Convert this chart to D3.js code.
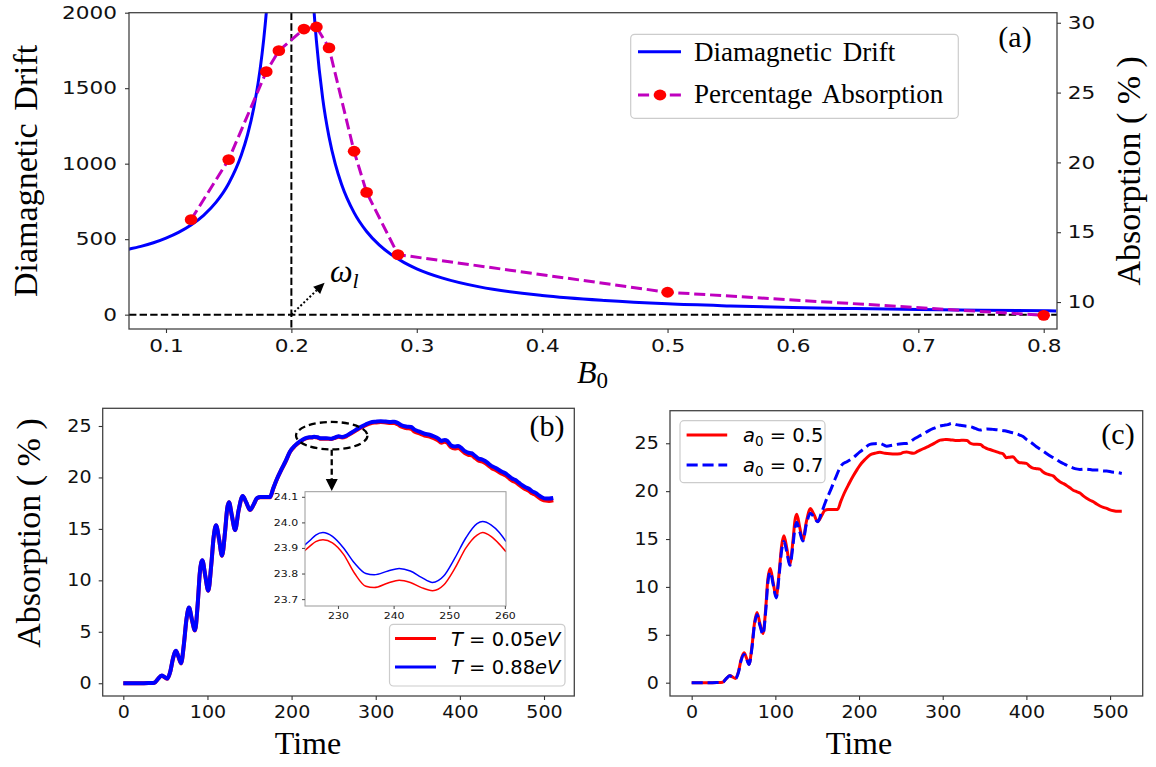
<!DOCTYPE html>
<html><head><meta charset="utf-8">
<script src="https://cdn.jsdelivr.net/npm/d3@7"></script>
<style>body{margin:0;background:#fff} svg{display:block;background:#fff}</style>
</head><body>
<svg id="fig" width="1156" height="767"></svg>
<script>
// ---------------- DATA ----------------
// Panel (a): diamagnetic drift vs B0 (null = break at resonance)
const driftB0 = [0.07,0.08,0.09,0.10,0.11,0.12,0.13,0.14,0.15,0.16,0.165,0.17,0.175,0.178,0.18,0.182,0.186,0.20,0.214,0.2175,0.22,0.225,0.23,0.235,0.24,0.25,0.26,0.27,0.28,0.29,0.30,0.32,0.35,0.40,0.45,0.50,0.55,0.60,0.65,0.70,0.75,0.81];
const driftVal = [433,452,476,507,545,594,658,745,869,1056,1190,1369,1621,1828,2000,2211,2700,null,2700,2080,1810,1431,1178,998,864,676,551,462,396,345,304,244,184,127,94,72,58,47,40,34,29,25];
// Panel (a): percentage absorption points
const absB0  = [0.12,0.15,0.18,0.19,0.21,0.22,0.23,0.25,0.26,0.285,0.50,0.80];
const absPct = [15.9,20.2,26.5,28.0,29.55,29.7,28.2,20.8,17.85,13.4,10.7,9.05];
const ticksA_x = [0.1,0.2,0.3,0.4,0.5,0.6,0.7,0.8];
const ticksA_yL = [0,500,1000,1500,2000];
const ticksA_yR = [10,15,20,25,30];

// Panel (b): absorption vs time
const timeB = [0,10,20,30,37,41,45.6,49,52.3,56,59,62.6,65.5,68.6,72,75,78.1,81.5,85.2,88.5,91,93.9,97.5,101,104.5,107.5,110.2,113.8,117.3,121,123.5,125.6,129,132.9,137,141.9,146,150.6,155,159,163,170,174.4,178,182.3,188,193,198,204,210,216,221,224,227,231,235,241,247,252,256,260,265,270,276,282,288,294,300,306,312,318,322,326,330,336,342,346,352,358,364,369,374,378,382,385,389,394,398,402,406,410,414,418,422,426,430,434,438,442,446,450,454,458,462,466,470,474,478,482,486,490,494,498,502,506,511];
const absB_T088 = [0,0,0,0.02,0.05,0.4,0.75,0.6,0.45,1.2,2.4,3.15,2.6,1.95,3.8,6.2,7.35,6.2,5.15,7.8,10.8,11.95,10.4,9.0,11.5,14.3,15.35,14.0,12.4,14.8,17.0,17.6,16.3,14.9,16.8,18.2,17.6,16.85,17.4,18.0,18.1,18.1,18.1,18.9,19.8,20.8,21.6,22.5,23.1,23.5,23.8,23.9,23.91,23.96,23.9,23.8,23.82,23.77,23.9,24.0,23.93,24.05,24.3,24.6,24.9,25.15,25.35,25.42,25.47,25.43,25.4,25.42,25.3,25.1,24.95,24.9,24.65,24.45,24.25,24.15,24.0,23.8,23.55,23.65,23.55,23.15,23.0,23.05,22.85,22.55,22.4,22.35,22.1,21.85,21.75,21.6,21.35,21.1,20.95,20.75,20.55,20.4,20.15,19.9,19.75,19.5,19.25,19.05,18.9,18.65,18.5,18.25,18.05,17.95,17.95,18.0];
const absB_T005 = [0,0,0,0.02,0.05,0.4,0.74,0.59,0.44,1.19,2.38,3.13,2.58,1.93,3.78,6.18,7.33,6.18,5.13,7.78,10.78,11.93,10.38,8.98,11.48,14.28,15.33,13.98,12.38,14.78,16.98,17.58,16.28,14.88,16.78,18.18,17.58,16.83,17.38,17.98,18.08,18.08,18.08,18.88,19.78,20.77,21.57,22.47,23.06,23.46,23.76,23.87,23.89,23.93,23.87,23.75,23.77,23.73,23.86,23.96,23.89,24.0,24.24,24.53,24.82,25.07,25.27,25.34,25.38,25.34,25.3,25.3,25.16,24.95,24.8,24.73,24.47,24.27,24.07,23.97,23.82,23.62,23.37,23.47,23.37,22.97,22.82,22.86,22.66,22.36,22.2,22.15,21.9,21.65,21.55,21.4,21.15,20.9,20.75,20.55,20.35,20.2,19.95,19.7,19.55,19.3,19.05,18.85,18.7,18.45,18.3,18.05,17.85,17.75,17.72,17.78];
const ticksB_x = [0,100,200,300,400,500];
const ticksB_y = [0,5,10,15,20,25];

// Inset of (b): zoom on 224-260
const timeInset = [224,225,226,227.3,229,231,233,235,236.5,239,241,243,245,247,249,251,253,255,256,257.5,259,260.2];
const insetT088 = [23.911,23.93,23.95,23.96,23.945,23.90,23.84,23.80,23.795,23.81,23.82,23.81,23.785,23.765,23.79,23.86,23.94,23.995,24.003,23.99,23.96,23.925];
const insetT005 = [23.889,23.908,23.925,23.932,23.92,23.875,23.80,23.75,23.745,23.763,23.774,23.765,23.745,23.733,23.755,23.82,23.90,23.95,23.96,23.945,23.915,23.885];
const ticksI_x = [230,240,250,260];
const ticksI_y = [23.7,23.8,23.9,24.0,24.1];

// Panel (c)
const timeC_a05 = [0,10,20,30,37,41,45.6,49,52.3,56,59,62.6,65.5,68.6,72,75,78.1,81.5,85.2,88.5,91,93.9,97.5,101,104.5,107.5,110.2,113.8,117.3,121,123.5,125.6,129,132.9,137,141.9,146,150.6,155,159,163,170,174.4,178,182.3,188,193,198,201,207,213,219,225,231,237,243,249,253,257,261,265,270,276,281,287,292,297,302,305,310,315,320,325,329,333,337,341,345,349,353,358,363,368,372,376,380,384,388,392,396,400,404,408,412,416,420,424,428,432,436,440,444,448,452,456,460,464,468,472,476,480,484,488,492,496,500,504,509,514];
const absC_a05 = [0,0,0,0.02,0.05,0.4,0.74,0.59,0.44,1.19,2.38,3.13,2.58,1.93,3.78,6.18,7.33,6.18,5.13,7.78,10.78,11.93,10.38,8.98,11.48,14.28,15.33,13.98,12.38,14.78,16.98,17.58,16.28,14.88,16.78,18.18,17.58,16.83,17.38,17.98,18.08,18.08,18.08,18.88,19.78,20.77,21.57,22.3,22.7,23.3,23.77,23.95,24.05,23.95,23.9,23.88,23.9,24.05,24.1,24.0,23.95,24.15,24.4,24.6,24.85,25.1,25.33,25.38,25.4,25.35,25.3,25.3,25.32,25.3,25.0,24.9,24.9,24.88,24.6,24.45,24.3,24.15,24.0,23.9,23.5,23.55,23.6,23.2,22.97,22.95,22.9,22.6,22.4,22.35,22.3,22.0,21.8,21.7,21.6,21.25,20.98,20.8,20.6,20.35,20.1,19.95,19.8,19.5,19.25,19.05,18.9,18.65,18.45,18.3,18.2,18.05,17.96,17.9,17.9];
const timeC_a07 = [0,10,20,30,37,41,45.6,49,52.3,56,59,62.6,65.5,68.6,72,75,78.1,81.5,85.2,88.5,91,93.9,97.5,101,104.5,107.5,110.2,113.8,117.3,121,123.5,125.6,129,132.9,137,141.9,146,150.6,155,160,166,172,179,186,192.5,201,207,213,219,225,233,240,245,251,257,265,271,277,283,289,295,301,306,311,316,321,327,333,339,345,349,353,360,368,374,380,386,392,396,400,406,412,418,424,430,436,440,446,452,458,464,470,476,480,486,492,496,502,508,514];
const absC_a07 = [0,0,0,0.02,0.05,0.4,0.72,0.55,0.42,1.1,2.3,2.95,2.5,1.9,3.6,6.0,7.1,6.0,5.05,7.5,10.4,11.55,10.2,8.85,11.2,13.8,14.75,13.6,12.25,14.3,16.2,16.75,15.8,14.8,16.5,17.7,17.3,16.8,17.7,18.9,20.1,21.4,22.7,23.1,23.45,24.1,24.5,24.88,24.95,24.98,24.7,24.8,24.88,24.95,24.98,25.4,25.7,26.0,26.3,26.55,26.75,26.87,26.95,27.08,26.95,26.87,26.8,26.73,26.55,26.38,26.45,26.5,26.45,26.38,26.3,26.17,26.05,25.86,25.7,25.4,25.05,24.64,24.3,23.94,23.6,23.3,23.07,22.8,22.55,22.35,22.27,22.3,22.25,22.2,22.2,22.1,22.1,22.0,21.95,21.85];
const ticksC_x = [0,100,200,300,400,500];
const ticksC_y = [0,5,10,15,20,25];

// ---------------- DRAWING ----------------
const svg = d3.select("#fig");
const SERIF = "Liberation Serif, Times New Roman, serif";
const SANS = "DejaVu Sans, sans-serif";
const defs = svg.append("defs");

function clip(id, x0, x1, y0, y1) {
  defs.append("clipPath").attr("id", id).append("rect")
    .attr("x", x0).attr("y", y0).attr("width", x1 - x0).attr("height", y1 - y0);
  return `url(#${id})`;
}
function styleAxis(g, fs, sx, color) {
  g.select(".domain").remove();
  g.selectAll(".tick line").attr("stroke", color || "#333").attr("stroke-width", 1.1);
  g.selectAll(".tick text").attr("fill", "#111")
    .style("font-family", SANS).style("font-size", fs + "px")
    .attr("transform", `scale(${sx},1)`);
}
function frame(x0, x1, y0, y1, color, w) {
  svg.append("rect").attr("x", x0).attr("y", y0).attr("width", x1 - x0).attr("height", y1 - y0)
    .attr("fill", "none").attr("stroke", color || "#444").attr("stroke-width", w || 1.3);
}
function zip(a, b) { return a.map((d, i) => [d, b[i]]); }

// ===== Panel (a) =====
const A = {l: 129, r: 1057, t: 12.7, b: 329};
const xA = d3.scaleLinear().domain([0.0705, 0.8106]).range([A.l, A.r]);
const yA = d3.scaleLinear().domain([-95, 2000]).range([A.b, A.t]);
const yA2 = d3.scaleLinear().domain([8.07, 30.72]).range([A.b, A.t]);
const clipA = clip("cA", A.l, A.r, A.t, A.b);
const gA = svg.append("g").attr("clip-path", clipA);

// reference dashed lines
gA.append("line").attr("x1", A.l).attr("x2", A.r).attr("y1", yA(0)).attr("y2", yA(0))
  .attr("stroke", "#000").attr("stroke-width", 2).attr("stroke-dasharray", "7.4,3.2");
gA.append("line").attr("x1", xA(0.2)).attr("x2", xA(0.2)).attr("y1", A.t).attr("y2", A.b)
  .attr("stroke", "#000").attr("stroke-width", 2).attr("stroke-dasharray", "7.4,3.2");

const lineDrift = d3.line().defined(d => d[1] != null)
  .x(d => xA(d[0])).y(d => yA(d[1])).curve(d3.curveMonotoneX);
gA.append("path").datum(zip(driftB0, driftVal)).attr("d", lineDrift)
  .attr("fill", "none").attr("stroke", "#0000ff").attr("stroke-width", 3);

const lineAbs = d3.line().x(d => xA(d[0])).y(d => yA2(d[1]));
gA.append("path").datum(zip(absB0, absPct)).attr("d", lineAbs)
  .attr("fill", "none").attr("stroke", "#bf00bf").attr("stroke-width", 3).attr("stroke-dasharray", "11.1,4.8");
svg.append("g").selectAll("ellipse").data(zip(absB0, absPct)).join("ellipse")
  .attr("cx", d => xA(d[0])).attr("cy", d => yA2(d[1])).attr("rx", 6.3).attr("ry", 5.4)
  .attr("fill", "#ff0000");

// omega_l annotation (dotted arrow)
{
  const x0 = xA(0.2), y0 = yA(0), x1 = xA(0.2265), y1 = yA(212);
  const ang = Math.atan2(y1 - y0, x1 - x0);
  const hl = 11, hw = 5;
  const bx = x1 - hl * Math.cos(ang), by = y1 - hl * Math.sin(ang);
  svg.append("line").attr("x1", x0).attr("y1", y0).attr("x2", bx).attr("y2", by)
    .attr("stroke", "#000").attr("stroke-width", 2).attr("stroke-dasharray", "2,2.2");
  const px = -Math.sin(ang), py = Math.cos(ang);
  svg.append("path").attr("d", `M${x1},${y1}L${bx + px * hw},${by + py * hw}L${bx - px * hw},${by - py * hw}Z`).attr("fill", "#000");
  const t = svg.append("text").attr("x", 330).attr("y", 282).style("font-family", SERIF)
    .style("font-style", "italic").style("font-size", "32px").attr("fill", "#000");
  t.append("tspan").text("ω");
  t.append("tspan").attr("dy", 6).style("font-size", "22px").text("l");
}

frame(A.l, A.r, A.t, A.b);
svg.append("g").attr("transform", `translate(0,${A.b})`)
  .call(d3.axisBottom(xA).tickValues(ticksA_x).tickFormat(d3.format(".1f")).tickSize(4).tickPadding(6))
  .call(g => styleAxis(g, 18, 1.2));
svg.append("g").attr("transform", `translate(${A.l},0)`)
  .call(d3.axisLeft(yA).tickValues(ticksA_yL).tickFormat(d3.format("d")).tickSize(4).tickPadding(6))
  .call(g => styleAxis(g, 18, 1.2));
svg.append("g").attr("transform", `translate(${A.r},0)`)
  .call(d3.axisRight(yA2).tickValues(ticksA_yR).tickFormat(d3.format("d")).tickSize(4).tickPadding(5))
  .call(g => styleAxis(g, 18, 1.2));

// titles (a)
svg.append("text").attr("transform", `translate(37,${(A.t + A.b) / 2}) rotate(-90)`)
  .attr("text-anchor", "middle").style("font-family", SERIF).style("font-size", "34px")
  .style("word-spacing", "4px").text("Diamagnetic Drift");
svg.append("text").attr("transform", `translate(1140,${(A.t + A.b) / 2}) rotate(-90)`)
  .attr("text-anchor", "middle").style("font-family", SERIF).style("font-size", "34px")
  .text("Absorption ( % )");
{
  const t = svg.append("text").attr("x", 577).attr("y", 383).style("font-family", SERIF).style("font-size", "32px");
  t.append("tspan").style("font-style", "italic").text("B");
  t.append("tspan").attr("dy", 5).style("font-size", "23px").text("0");
}
svg.append("text").attr("x", 1015).attr("y", 47).attr("text-anchor", "middle")
  .style("font-family", SERIF).style("font-size", "30px").text("(a)");

// legend (a)
{
  const lg = svg.append("g");
  lg.append("rect").attr("x", 630.7).attr("y", 34.3).attr("width", 327.6).attr("height", 84).attr("rx", 4)
    .attr("fill", "#fff").attr("fill-opacity", 0.85).attr("stroke", "#ccc").attr("stroke-width", 1.2);
  lg.append("line").attr("x1", 638).attr("x2", 681).attr("y1", 51.7).attr("y2", 51.7)
    .attr("stroke", "#0000ff").attr("stroke-width", 3);
  lg.append("line").attr("x1", 638).attr("x2", 681).attr("y1", 95).attr("y2", 95)
    .attr("stroke", "#bf00bf").attr("stroke-width", 3).attr("stroke-dasharray", "11.1,4.8").attr("stroke-dashoffset", 0);
  lg.append("ellipse").attr("cx", 660).attr("cy", 95).attr("rx", 6.3).attr("ry", 5.4).attr("fill", "#ff0000");
  lg.append("text").attr("x", 694).attr("y", 61).style("font-family", SERIF).style("font-size", "27px")
    .style("word-spacing", "4px").text("Diamagnetic Drift");
  lg.append("text").attr("x", 694).attr("y", 103).style("font-family", SERIF).style("font-size", "27px")
    .style("word-spacing", "4px").text("Percentage Absorption");
}

// ===== Panel (b) =====
const B = {l: 102.7, r: 574.3, t: 408.3, b: 696};
const xB = d3.scaleLinear().domain([-24.5, 536]).range([B.l, B.r]);
const yB = d3.scaleLinear().domain([-1.24, 26.72]).range([B.b, B.t]);
const gB = svg.append("g").attr("clip-path", clip("cB", B.l, B.r, B.t, B.b));
const lineB = d3.line().x(d => xB(d[0])).y(d => yB(d[1])).curve(d3.curveMonotoneX);
gB.append("path").datum(zip(timeB, absB_T005)).attr("d", lineB)
  .attr("fill", "none").attr("stroke", "#ff0000").attr("stroke-width", 4);
gB.append("path").datum(zip(timeB, absB_T088)).attr("d", lineB)
  .attr("fill", "none").attr("stroke", "#0000ff").attr("stroke-width", 4);
frame(B.l, B.r, B.t, B.b);
svg.append("g").attr("transform", `translate(0,${B.b})`)
  .call(d3.axisBottom(xB).tickValues(ticksB_x).tickFormat(d3.format("d")).tickSize(4).tickPadding(6))
  .call(g => styleAxis(g, 17, 1.12));
svg.append("g").attr("transform", `translate(${B.l},0)`)
  .call(d3.axisLeft(yB).tickValues(ticksB_y).tickFormat(d3.format("d")).tickSize(4).tickPadding(6))
  .call(g => styleAxis(g, 17, 1.12));
svg.append("text").attr("transform", `translate(40,533) rotate(-90)`)
  .attr("text-anchor", "middle").style("font-family", SERIF).style("font-size", "34px")
  .text("Absorption ( % )");
svg.append("text").attr("x", 308).attr("y", 754).attr("text-anchor", "middle")
  .style("font-family", SERIF).style("font-size", "32px").text("Time");
svg.append("text").attr("x", 547).attr("y", 436).attr("text-anchor", "middle")
  .style("font-family", SERIF).style("font-size", "30px").text("(b)");

// ellipse + arrow to inset
svg.append("ellipse").attr("cx", xB(247.7)).attr("cy", yB(24.06)).attr("rx", 35.7).attr("ry", 13.7)
  .attr("fill", "none").attr("stroke", "#000").attr("stroke-width", 2.3).attr("stroke-dasharray", "7,4");
{
  const x = xB(247.7), y0 = yB(24.06) + 14, y1 = 491;
  svg.append("line").attr("x1", x).attr("x2", x).attr("y1", y0).attr("y2", y1 - 11)
    .attr("stroke", "#000").attr("stroke-width", 2.3).attr("stroke-dasharray", "6,3.5");
  svg.append("path").attr("d", `M${x - 6},${y1 - 12}L${x + 6},${y1 - 12}L${x},${y1}Z`).attr("fill", "#000");
}

// inset
const I = {l: 305, r: 506, t: 491.7, b: 606};
const xI = d3.scaleLinear().domain([224.07, 260.2]).range([I.l, I.r]);
const yI = d3.scaleLinear().domain([23.673, 24.12]).range([I.b, I.t]);
svg.append("rect").attr("x", I.l).attr("y", I.t).attr("width", I.r - I.l).attr("height", I.b - I.t).attr("fill", "#fff");
const gI = svg.append("g").attr("clip-path", clip("cI", I.l, I.r, I.t, I.b));
const lineI = d3.line().x(d => xI(d[0])).y(d => yI(d[1])).curve(d3.curveMonotoneX);
gI.append("path").datum(zip(timeInset, insetT005)).attr("d", lineI)
  .attr("fill", "none").attr("stroke", "#ff0000").attr("stroke-width", 1.5);
gI.append("path").datum(zip(timeInset, insetT088)).attr("d", lineI)
  .attr("fill", "none").attr("stroke", "#0000ff").attr("stroke-width", 1.5);
frame(I.l, I.r, I.t, I.b, "#999", 1);
svg.append("g").attr("transform", `translate(0,${I.b})`)
  .call(d3.axisBottom(xI).tickValues(ticksI_x).tickFormat(d3.format("d")).tickSize(3).tickPadding(3))
  .call(g => styleAxis(g, 9.5, 1.15, "#555"));
svg.append("g").attr("transform", `translate(${I.l},0)`)
  .call(d3.axisLeft(yI).tickValues(ticksI_y).tickFormat(d3.format(".1f")).tickSize(3).tickPadding(3))
  .call(g => styleAxis(g, 9.5, 1.15, "#555"));

// legend (b)
{
  const lg = svg.append("g");
  lg.append("rect").attr("x", 389.5).attr("y", 624.3).attr("width", 175.5).attr("height", 61.7).attr("rx", 4)
    .attr("fill", "#fff").attr("fill-opacity", 0.85).attr("stroke", "#ccc").attr("stroke-width", 1.2);
  const items = [["0.05", "#ff0000", 638.6], ["0.88", "#0000ff", 667]];
  items.forEach(([v, c, y]) => {
    lg.append("line").attr("x1", 395).attr("x2", 436).attr("y1", y).attr("y2", y).attr("stroke", c).attr("stroke-width", 3);
    const t = lg.append("text").attr("x", 451).attr("y", y + 7.3).style("font-family", SANS).style("font-size", "19.5px");
    t.append("tspan").style("font-style", "italic").text("T");
    t.append("tspan").text(" = " + v);
    t.append("tspan").style("font-style", "italic").text("eV");
  });
}

// ===== Panel (c) =====
const C = {l: 670, r: 1142.7, t: 410.7, b: 696};
const xC = d3.scaleLinear().domain([-25.9, 539]).range([C.l, C.r]);
const yC = d3.scaleLinear().domain([-1.39, 28.4]).range([C.b, C.t]);
const gC = svg.append("g").attr("clip-path", clip("cC", C.l, C.r, C.t, C.b));
const lineC = d3.line().x(d => xC(d[0])).y(d => yC(d[1])).curve(d3.curveMonotoneX);
gC.append("path").datum(zip(timeC_a05, absC_a05)).attr("d", lineC)
  .attr("fill", "none").attr("stroke", "#ff0000").attr("stroke-width", 3);
gC.append("path").datum(zip(timeC_a07, absC_a07)).attr("d", lineC)
  .attr("fill", "none").attr("stroke", "#0000ff").attr("stroke-width", 3).attr("stroke-dasharray", "11.1,4.8");
frame(C.l, C.r, C.t, C.b);
svg.append("g").attr("transform", `translate(0,${C.b})`)
  .call(d3.axisBottom(xC).tickValues(ticksC_x).tickFormat(d3.format("d")).tickSize(4).tickPadding(6))
  .call(g => styleAxis(g, 17, 1.12));
svg.append("g").attr("transform", `translate(${C.l},0)`)
  .call(d3.axisLeft(yC).tickValues(ticksC_y).tickFormat(d3.format("d")).tickSize(4).tickPadding(6))
  .call(g => styleAxis(g, 17, 1.12));
svg.append("text").attr("x", 859).attr("y", 754).attr("text-anchor", "middle")
  .style("font-family", SERIF).style("font-size", "32px").text("Time");
svg.append("text").attr("x", 1118).attr("y", 444).attr("text-anchor", "middle")
  .style("font-family", SERIF).style("font-size", "30px").text("(c)");

// legend (c)
{
  const lg = svg.append("g");
  lg.append("rect").attr("x", 680).attr("y", 420.7).attr("width", 145).attr("height", 62).attr("rx", 4)
    .attr("fill", "#fff").attr("fill-opacity", 0.85).attr("stroke", "#ccc").attr("stroke-width", 1.2);
  const items = [["0.5", "#ff0000", 435, null], ["0.7", "#0000ff", 465, "11.1,4.8"]];
  items.forEach(([v, c, y, dash]) => {
    const ln = lg.append("line").attr("x1", 686.6).attr("x2", 727.2).attr("y1", y).attr("y2", y).attr("stroke", c).attr("stroke-width", 3);
    if (dash) ln.attr("stroke-dasharray", dash);
    const t = lg.append("text").attr("x", 743).attr("y", y + 7.3).style("font-family", SANS).style("font-size", "19.5px");
    t.append("tspan").style("font-style", "italic").text("a");
    t.append("tspan").attr("dy", 4).style("font-size", "13.5px").text("0");
    t.append("tspan").attr("dy", -4).text(" = " + v);
  });
}
</script>
</body></html>
